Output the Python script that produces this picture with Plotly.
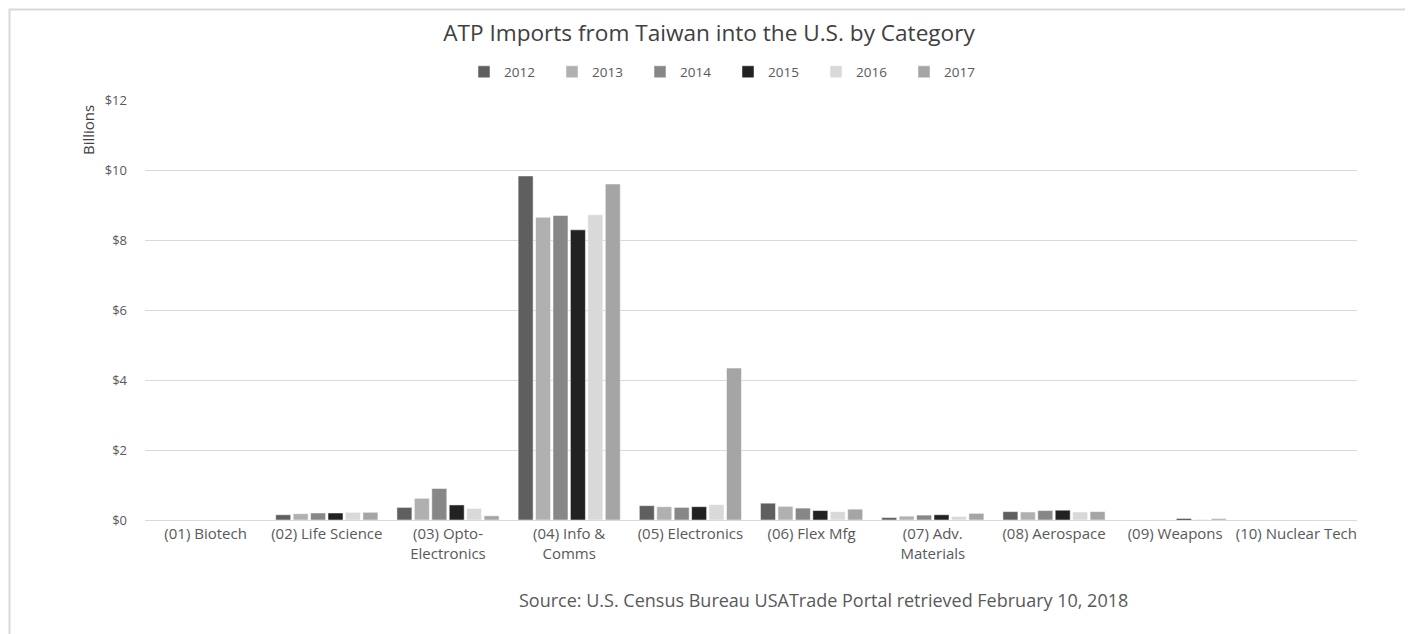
import plotly.graph_objects as go

categories = ["(01) Biotech", "(02) Life Science", "(03) Opto-<br>Electronics", "(04) Info &<br>Comms",
              "(05) Electronics", "(06) Flex Mfg", "(07) Adv.<br>Materials", "(08) Aerospace",
              "(09) Weapons", "(10) Nuclear Tech"]
years = ["2012", "2013", "2014", "2015", "2016", "2017"]
v2012 = [0.0, 0.15, 0.36, 9.83, 0.41, 0.48, 0.07, 0.24, 0.0, 0.0]
v2013 = [0.0, 0.18, 0.62, 8.65, 0.38, 0.39, 0.11, 0.23, 0.0, 0.0]
v2014 = [0.0, 0.20, 0.90, 8.70, 0.36, 0.34, 0.14, 0.27, 0.0, 0.0]
v2015 = [0.0, 0.20, 0.43, 8.29, 0.38, 0.27, 0.15, 0.28, 0.04, 0.0]
v2016 = [0.0, 0.22, 0.33, 8.72, 0.44, 0.24, 0.10, 0.23, 0.02, 0.0]
v2017 = [0.0, 0.22, 0.12, 9.60, 4.34, 0.31, 0.19, 0.24, 0.04, 0.0]
series = [v2012, v2013, v2014, v2015, v2016, v2017]
colors = ["#5f5f5f", "#b0b0b0", "#878787", "#222222", "#d9d9d9", "#a5a5a5"]
yticks = [0, 2, 4, 6, 8, 10, 12]
yticklabels = ["$0", "$2", "$4", "$6", "$8", "$10", "$12"]

FONT = "Open Sans"
fig = go.Figure()
for yr, vals, c in zip(years, series, colors):
    fig.add_trace(go.Bar(name=yr, x=categories, y=vals,
                         marker=dict(color=c, line=dict(color="white", width=0.5))))

# page is rendered with an 8px body margin; work in page pixels and convert
OFF = 8
W, H = 1413, 634
PL, PR, PT, PB = 145, 1357, 100, 520  # plot area in page pixels
ml, mt = PL - OFF, PT - OFF
mr, mb = W - (PR - OFF), H - (PB - OFF)
pw, ph = PR - PL, PB - PT


def px(x):
    return (x - PL) / pw


def py(y):
    return (PB - y) / ph


fig.update_layout(
    width=W, height=H,
    margin=dict(l=ml, r=mr, t=mt, b=mb),
    paper_bgcolor="white", plot_bgcolor="white",
    barmode="group", bargap=0.137, bargroupgap=0.14,
    font=dict(family=FONT, color="#595959", size=13),
    title=dict(text="ATP Imports from Taiwan into the U.S. by Category", x=px(709), xanchor="center",
               xref="paper", y=1 - (33 - OFF) / H, yanchor="middle",
               font=dict(family=FONT, size=22.6, color="#404040")),
    legend=dict(orientation="h", x=px(728), xanchor="center", y=py(72), yanchor="middle",
                font=dict(family=FONT, size=13.5, color="#595959"), itemwidth=30,
                entrywidth=43, entrywidthmode="pixels", traceorder="normal"),
    xaxis=dict(showgrid=False, showline=True, linecolor="#d9d9d9", linewidth=1, ticks="",
               tickfont=dict(family=FONT, size=15, color="#595959")),
    yaxis=dict(range=[0, 12], tickvals=yticks, ticktext=yticklabels, showgrid=True, gridcolor="#d9d9d9",
               gridwidth=1, zeroline=False, showline=False, ticks="", ticklabelstandoff=17,
               tickfont=dict(family=FONT, size=13, color="#595959")),
    showlegend=True,
)

fig.add_annotation(text="Billions", textangle=-90, xref="paper", yref="paper",
                   x=px(88), y=py(130), xanchor="center", yanchor="middle",
                   showarrow=False, font=dict(family=FONT, size=15, color="#404040"))
fig.add_annotation(text="Source: U.S. Census Bureau USATrade Portal retrieved February 10, 2018",
                   xref="paper", yref="paper", x=px(823), y=py(600),
                   xanchor="center", yanchor="middle", showarrow=False,
                   font=dict(family=FONT, size=18, color="#595959"))
fig.add_shape(type="rect", xref="paper", yref="paper",
              x0=px(9.5), x1=px(1410), y0=py(700), y1=py(9.5),
              line=dict(color="#d9d9d9", width=2), fillcolor="rgba(0,0,0,0)", layer="below")

fig.write_html("out.html")
